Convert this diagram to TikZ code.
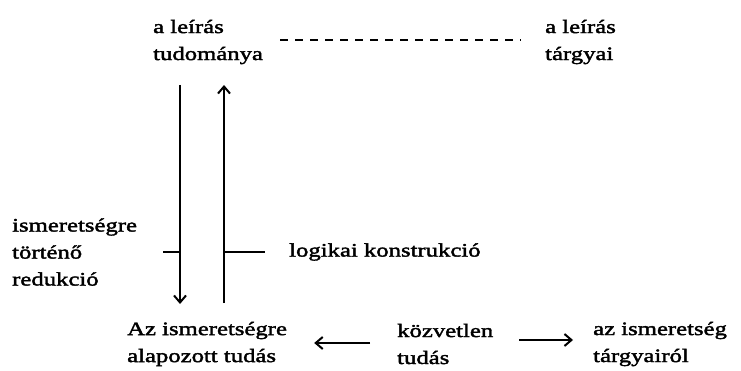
\documentclass[tikz,border=0pt]{standalone}
\usepackage{fontspec}
\setmainfont{Liberation Serif}[FakeStretch=1.3,FakeBold=2]
\usetikzlibrary{arrows.meta}
\begin{document}
\begin{tikzpicture}[x=1pt,y=-1pt,
  lbl/.style={inner sep=0pt,anchor=west,align=left,font=\fontsize{19}{27}\selectfont},
  ln/.style={line width=2pt},
  arr/.style={ln,-{Straight Barb[length=7pt,width=12pt,line width=2pt]}},
  dsh/.style={line width=2pt,dash pattern=on 8pt off 7pt}]
\useasboundingbox (0,0) rectangle (741,371);
\node[lbl] (sci) at (153,42) {a leírás\\tudománya};
\node[lbl] (obj) at (545,42) {a leírás\\tárgyai};
\node[lbl] (red) at (12,252) {ismeretségre\\történő\\redukció};
\node[lbl] (log) at (289,252) {logikai konstrukció};
\node[lbl] (abt) at (127,344) {Az ismeretségre\\alapozott tudás};
\node[lbl] (kozv) at (397,344) {közvetlen\\tudás};
\node[lbl] (targy) at (593,344) {az ismeretség\\tárgyairól};
\coordinate (dtop) at (180,85);
\coordinate (dbot) at (180,304);
\coordinate (utop) at (224,85);
\coordinate (ubot) at (224,303);
\coordinate (tl) at (163,252);
\coordinate (tr) at (265,252);
\draw[dsh] (280,40) -- (521,40);
\draw[arr] (dtop) -- (dbot);
\draw[arr] (ubot) -- (utop);
\draw[ln] (tl) -- (tl -| dtop);
\draw[ln] (utop |- tr) -- (tr);
\draw[arr] ([xshift=-27pt,yshift=1pt]kozv.west) -- ([xshift=27pt,yshift=1pt]kozv.west -| abt.east);
\draw[arr] ([xshift=26pt,yshift=4pt]kozv.east) -- ([xshift=-20pt,yshift=4pt]targy.west);
\end{tikzpicture}
\end{document}
